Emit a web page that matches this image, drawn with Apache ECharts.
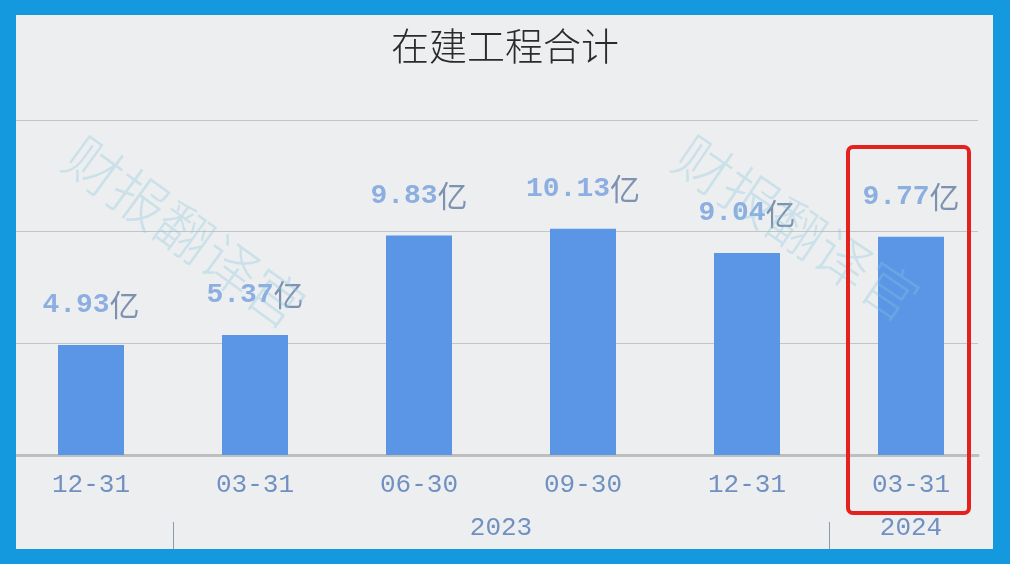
<!DOCTYPE html>
<html>
<head>
    <meta charset="utf-8">
    <title>在建工程合计</title>
    <script src="https://cdn.jsdelivr.net/npm/echarts@6/dist/echarts.min.js"></script>
    <style>
        html, body { margin: 0; padding: 0; }
    </style>
</head>
<body>
<div id="main" style="width: 1010px;height:564px;"></div>
<script type="text/javascript">
    // 数据
    var dates = ['12-31', '03-31', '06-30', '09-30', '12-31', '03-31'];
    var values = [4.93, 5.37, 9.83, 10.13, 9.04, 9.77];
    var unit = '亿';
    // 年份分组（按类目下标起止）
    var years = ['2023', '2024'];
    var yearStart = [1, 5];
    var yearEnd = [5, 6];

    var yearCenters = years.map(function (y, i) { return (yearStart[i] + yearEnd[i]) / 2; });

    var myChart = echarts.init(document.getElementById('main'));

    var option = {
        animation: false,
        backgroundColor: '#EDEEF0',
        title: {
            text: '在建工程合计',
            left: 'center',
            top: 22,
            textStyle: {
                fontFamily: 'Noto Sans CJK SC',
                fontSize: 38,
                fontWeight: 300,
                color: '#2B2B2B'
            }
        },
        grid: [
            {left: 9, right: 17, top: 120, bottom: 109},
            {left: 16, right: 32, top: 120, bottom: 109}
        ],
        xAxis: [
            {
                type: 'category',
                gridIndex: 0,
                data: dates,
                axisLine: {show: false},
                axisTick: {show: false},
                axisLabel: {
                    margin: 17,
                    fontFamily: 'Liberation Mono',
                    fontSize: 26,
                    color: '#7090C2'
                }
            },
            {
                type: 'value',
                gridIndex: 1,
                min: 0,
                max: 1,
                axisLine: {show: true, lineStyle: {color: '#BEBEBE', width: 3}},
                axisTick: {show: false},
                axisLabel: {show: false},
                splitLine: {show: false}
            },
            {
                type: 'value',
                gridIndex: 0,
                position: 'bottom',
                offset: 97,
                min: 0,
                max: dates.length,
                axisLine: {show: false},
                splitLine: {show: false},
                axisTick: {
                    show: true,
                    inside: true,
                    length: 30,
                    customValues: yearStart,
                    lineStyle: {color: '#8A9BB5', width: 1}
                },
                axisLabel: {
                    show: true,
                    inside: true,
                    margin: 11,
                    customValues: yearCenters,
                    formatter: function (v) {
                        var i = yearCenters.indexOf(v);
                        return i >= 0 ? years[i] : '';
                    },
                    fontFamily: 'Liberation Mono',
                    fontSize: 26,
                    color: '#7090C2'
                }
            }
        ],
        yAxis: [
            {
                type: 'value',
                gridIndex: 0,
                min: 0,
                max: 15,
                interval: 5,
                axisLine: {show: false},
                axisTick: {show: false},
                axisLabel: {show: false},
                splitLine: {show: false}
            },
            {
                type: 'value',
                gridIndex: 1,
                min: 0,
                max: 15,
                interval: 5,
                axisLine: {show: false},
                axisTick: {show: false},
                axisLabel: {show: false},
                splitLine: {show: true, lineStyle: {color: '#C4C4C4', width: 1}}
            }
        ],
        series: [{
            type: 'bar',
            xAxisIndex: 0,
            yAxisIndex: 0,
            data: values,
            barWidth: 66,
            itemStyle: {color: '#5A95E6'},
            label: {
                show: true,
                position: 'top',
                distance: 25,
                formatter: function (p) {
                    return '{n|' + p.value.toFixed(2) + '}{u|' + unit + '}';
                },
                rich: {
                    n: {
                        fontFamily: 'Liberation Mono',
                        fontWeight: 'bold',
                        fontSize: 28,
                        color: '#8CAEE0'
                    },
                    u: {
                        fontFamily: 'Noto Sans CJK SC',
                        fontSize: 30,
                        color: '#7C92B0'
                    }
                }
            }
        }],
        graphic: [
            // 水印
            {
                type: 'text', x: 185, y: 232, rotation: -36 * Math.PI / 180, z: 50,
                style: {
                    text: '财报翻译官', fill: 'rgba(130,200,220,0.32)',
                    font: '300 56px "Noto Sans CJK SC"', textAlign: 'center', textVerticalAlign: 'middle'
                }
            },
            {
                type: 'text', x: 797, y: 228, rotation: -34 * Math.PI / 180, z: 50,
                style: {
                    text: '财报翻译官', fill: 'rgba(130,200,220,0.32)',
                    font: '300 56px "Noto Sans CJK SC"', textAlign: 'center', textVerticalAlign: 'middle'
                }
            },
            // 红框
            {
                type: 'rect', z: 60,
                shape: {x: 848, y: 147, width: 121, height: 366, r: 5},
                style: {fill: 'none', stroke: '#E5211D', lineWidth: 4}
            },
            // 边框
            {type: 'rect', z: 100, shape: {x: 0, y: 0, width: 1010, height: 15}, style: {fill: '#1499DF'}},
            {type: 'rect', z: 100, shape: {x: 0, y: 549, width: 1010, height: 15}, style: {fill: '#1499DF'}},
            {type: 'rect', z: 100, shape: {x: 0, y: 0, width: 16, height: 564}, style: {fill: '#1499DF'}},
            {type: 'rect', z: 100, shape: {x: 993, y: 0, width: 17, height: 564}, style: {fill: '#1499DF'}}
        ]
    };

    myChart.setOption(option);
</script>
</body>
</html>
